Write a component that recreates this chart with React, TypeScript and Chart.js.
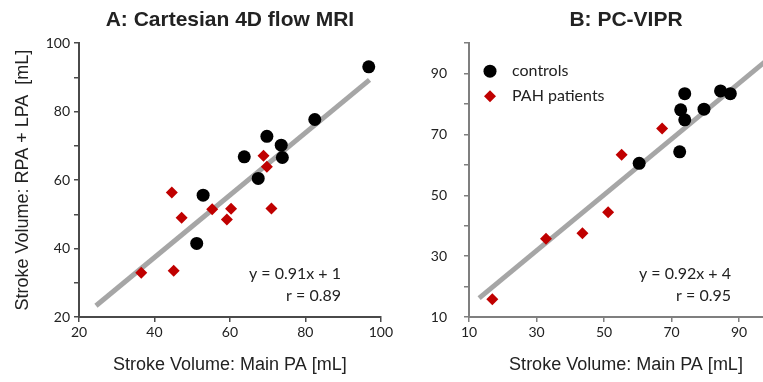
import React, { useEffect, useRef } from 'react';
import { Chart, registerables } from 'chart.js';

Chart.register(...registerables);

// ---------- Panel A data: Cartesian 4D flow MRI ----------
const controlsAX = [96.8, 82.5, 69.8, 73.6, 73.9, 63.8, 67.5, 52.9, 51.2];
const controlsAY = [93.1, 77.7, 72.8, 70.2, 66.6, 66.8, 60.5, 55.6, 41.5];
const patientsAX = [68.9, 69.8, 44.6, 55.3, 60.3, 71.0, 47.2, 59.2, 36.5, 45.1];
const patientsAY = [67.1, 63.9, 56.4, 51.5, 51.6, 51.7, 49.0, 48.5, 32.9, 33.5];
const fitAX = [24.5, 97];
const fitAY = [23.3, 89.3];
const xTicksA = [20, 40, 60, 80, 100];
const yTicksA = [20, 30, 40, 50, 60, 70, 80, 90, 100];
const yLabelsA = [20, 40, 60, 80, 100];

// ---------- Panel B data: PC-VIPR ----------
const controlsBX = [73.9, 84.5, 87.4, 72.7, 79.6, 73.9, 72.4, 60.4];
const controlsBY = [83.4, 84.3, 83.4, 78.1, 78.3, 74.8, 64.3, 60.5];
const patientsBX = [67.2, 55.2, 51.2, 43.6, 32.8, 16.9];
const patientsBY = [72.0, 63.3, 44.4, 37.5, 35.7, 15.8];
const fitBX = [13, 103];
const fitBY = [16.2, 98.8];
const xTicksB = [10, 30, 50, 70, 90];
const yTicksB = [10, 20, 30, 40, 50, 60, 70, 80, 90, 100];
const yLabelsB = [10, 30, 50, 70, 90];

const seriesLabels = ['controls', 'PAH patients'];

const BLACK = '#000000';
const RED = '#C00000';
const FIT = '#a6a6a6';
const TEXT = '#222222';
const TICK_FONT = { family: 'Lato, "Open Sans", sans-serif', size: 14 };
const AXIS_TITLE_FONT = { family: '"Liberation Sans", Arial, sans-serif', size: 18 };
const TITLE_FONT = { family: '"Liberation Sans", Arial, sans-serif', size: 21, weight: 'bold' as const };

const zip = (xs: number[], ys: number[]) => xs.map((x, i) => ({ x, y: ys[i] }));

type PanelProps = {
  left: number;
  width: number;
  title: string;
  cx: number[]; cy: number[];
  px: number[]; py: number[];
  fx: number[]; fy: number[];
  xMin: number; xMax: number; xTicks: number[];
  yMin: number; yMax: number; yTicks: number[]; yLabels: number[];
  yTitle: string | null;
  yWidth: number;
  yTickPad: number;
  padRight: number;
  axisColor: string;
  eq: string; r: string;
  showLegend: boolean;
};

function Panel(p: PanelProps) {
  const ref = useRef<HTMLCanvasElement | null>(null);
  useEffect(() => {
    if (!ref.current) return;
    const annot = {
      id: 'annot',
      afterDraw(chart: any) {
        const { ctx, chartArea } = chart;
        ctx.save();
        ctx.font = '16px Lato, "Open Sans", sans-serif';
        ctx.fillStyle = TEXT;
        ctx.textAlign = 'right';
        ctx.textBaseline = 'middle';
        ctx.fillText(p.eq, chartArea.left + 262, chartArea.bottom - 43);
        ctx.fillText(p.r, chartArea.left + 262, chartArea.bottom - 21);
        if (p.showLegend) {
          const ds = chart.data.datasets;
          const lx = chartArea.left + 21;
          const y1 = chartArea.top + 28;
          const y2 = chartArea.top + 53;
          ctx.fillStyle = ds[0].backgroundColor;
          ctx.beginPath();
          ctx.arc(lx, y1, 6.5, 0, Math.PI * 2);
          ctx.fill();
          ctx.fillStyle = ds[1].backgroundColor;
          ctx.beginPath();
          ctx.moveTo(lx - 6, y2);
          ctx.lineTo(lx, y2 - 6);
          ctx.lineTo(lx + 6, y2);
          ctx.lineTo(lx, y2 + 6);
          ctx.closePath();
          ctx.fill();
          ctx.fillStyle = TEXT;
          ctx.textAlign = 'left';
          ctx.fillText(ds[0].label, chartArea.left + 43, y1);
          ctx.fillText(ds[1].label, chartArea.left + 43, y2);
        }
        ctx.restore();
      },
    };
    const chart = new Chart(ref.current, {
      type: 'scatter',
      data: {
        datasets: [
          {
            label: seriesLabels[0],
            data: zip(p.cx, p.cy),
            backgroundColor: BLACK,
            borderColor: BLACK,
            pointStyle: 'circle',
            pointRadius: 6.5,
            borderWidth: 0,
          },
          {
            label: seriesLabels[1],
            data: zip(p.px, p.py),
            backgroundColor: RED,
            borderColor: RED,
            pointStyle: 'rectRot',
            pointRadius: 6,
            borderWidth: 0,
          },
          {
            label: 'fit',
            data: zip(p.fx, p.fy),
            showLine: true,
            borderColor: FIT,
            backgroundColor: FIT,
            borderWidth: 5,
            pointRadius: 0,
          },
        ],
      },
      options: {
        responsive: false,
        animation: false,
        layout: { padding: { left: 0, right: p.padRight, top: 0, bottom: 0 } },
        plugins: {
          legend: { display: false },
          tooltip: { enabled: false },
          title: {
            display: true,
            text: p.title,
            fullSize: false,
            font: TITLE_FONT,
            color: TEXT,
            padding: { top: 8, bottom: 10 },
          },
        },
        scales: {
          x: {
            type: 'linear',
            min: p.xMin,
            max: p.xMax,
            afterBuildTicks: (s: any) => {
              s.ticks = p.xTicks.map((v) => ({ value: v }));
            },
            afterFit: (s: any) => {
              s.height = 65;
            },
            ticks: { font: TICK_FONT, color: TEXT, padding: 2, maxRotation: 0 },
            grid: { drawOnChartArea: false, drawTicks: true, tickLength: 5, color: p.axisColor, lineWidth: 1.5 },
            border: { color: p.axisColor, width: 2 },
            title: {
              display: true,
              text: 'Stroke Volume: Main PA [mL]',
              font: AXIS_TITLE_FONT,
              color: TEXT,
              padding: 6,
            },
          },
          y: {
            type: 'linear',
            min: p.yMin,
            max: p.yMax,
            afterBuildTicks: (s: any) => {
              s.ticks = p.yTicks.map((v) => ({ value: v }));
            },
            afterFit: (s: any) => {
              s.width = p.yWidth;
            },
            ticks: {
              font: TICK_FONT,
              color: TEXT,
              padding: p.yTickPad,
              callback: (v: any) => (p.yLabels.includes(Number(v)) ? String(v) : ''),
            },
            grid: { drawOnChartArea: false, drawTicks: true, tickLength: 5, color: p.axisColor, lineWidth: 1.5 },
            border: { color: p.axisColor, width: 2 },
            title: {
              display: !!p.yTitle,
              text: p.yTitle || '',
              font: AXIS_TITLE_FONT,
              color: TEXT,
              padding: 12,
            },
          },
        },
      } as any,
      plugins: [annot],
    });
    return () => chart.destroy();
  }, []);
  return (
    <canvas
      ref={ref}
      width={p.width}
      height={382}
      style={{ position: 'absolute', left: p.left, top: 0, width: p.width, height: 382 }}
    />
  );
}

export default function App() {
  return (
    <div
      style={{
        position: 'fixed',
        left: 0,
        top: 0,
        width: 763,
        height: 382,
        overflow: 'hidden',
        background: '#ffffff',
      }}
    >
      <Panel
        left={0}
        width={395}
        title="A: Cartesian 4D flow MRI"
        cx={controlsAX} cy={controlsAY}
        px={patientsAX} py={patientsAY}
        fx={fitAX} fy={fitAY}
        xMin={20} xMax={100} xTicks={xTicksA}
        yMin={20} yMax={100} yTicks={yTicksA} yLabels={yLabelsA}
        yTitle="Stroke Volume: RPA + LPA  [mL]"
        yWidth={79}
        yTickPad={4}
        padRight={12}
        axisColor="#4a4a4a"
        eq="y = 0.91x + 1"
        r="r = 0.89"
        showLegend={false}
      />
      <Panel
        left={395}
        width={400}
        title="B: PC-VIPR"
        cx={controlsBX} cy={controlsBY}
        px={patientsBX} py={patientsBY}
        fx={fitBX} fy={fitBY}
        xMin={10} xMax={103} xTicks={xTicksB}
        yMin={10} yMax={100} yTicks={yTicksB} yLabels={yLabelsB}
        yTitle={null}
        yWidth={74}
        yTickPad={17}
        padRight={12}
        axisColor="#7f7f7f"
        eq="y = 0.92x + 4"
        r="r = 0.95"
        showLegend={true}
      />
    </div>
  );
}
